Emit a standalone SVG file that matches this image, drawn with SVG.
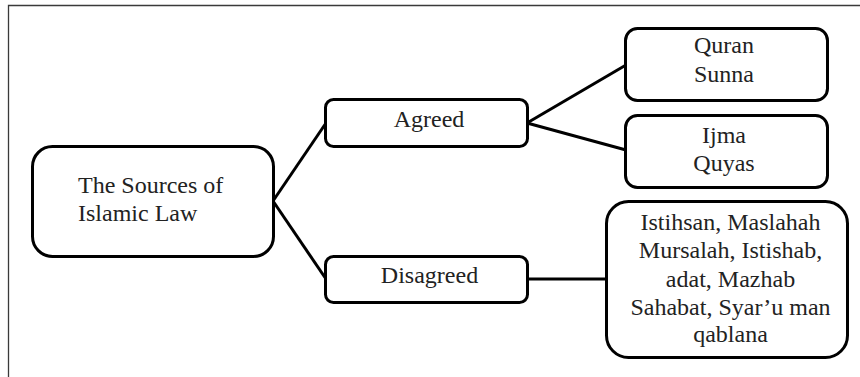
<svg xmlns="http://www.w3.org/2000/svg" width="860" height="377" viewBox="0 0 860 377">
<style>
.frame{fill:none;stroke:#3a3a3a;stroke-width:1.3}
.box{fill:#fff;stroke:#000;stroke-width:3}
.conn{fill:none;stroke:#000;stroke-width:3}
.t{font-family:'Liberation Serif',serif;font-size:24px;fill:#222}
.c{text-anchor:middle}
</style>
<rect width="860" height="377" fill="#fff"/>
<path class="frame" d="M8.5,377 V5.5 H860"/>
<g id="connectors">
<line class="conn" x1="273" y1="201" x2="326" y2="123"/>
<line class="conn" x1="273" y1="201" x2="326" y2="279"/>
<line class="conn" x1="527" y1="123" x2="626" y2="65"/>
<line class="conn" x1="527" y1="123" x2="626" y2="150"/>
<line class="conn" x1="527" y1="279" x2="607" y2="279"/>
</g>
<g id="root">
<rect class="box" x="32.5" y="146.5" width="241" height="110" rx="20"/>
<text class="t" x="78" y="193">The Sources of</text>
<text class="t" x="78" y="221">Islamic Law</text>
</g>
<g id="agreed">
<rect class="box" x="325.5" y="99.5" width="202" height="47" rx="8"/>
<text class="t c" x="429" y="127">Agreed</text>
</g>
<g id="disagreed">
<rect class="box" x="325.5" y="256.5" width="202" height="46" rx="8"/>
<text class="t c" x="429.5" y="283">Disagreed</text>
</g>
<g id="quran-sunna">
<rect class="box" x="625.5" y="28.5" width="202" height="72" rx="12"/>
<text class="t c" x="724" y="53">Quran</text>
<text class="t c" x="724" y="82">Sunna</text>
</g>
<g id="ijma-quyas">
<rect class="box" x="625.5" y="115.5" width="202" height="72" rx="12"/>
<text class="t c" x="724" y="143">Ijma</text>
<text class="t c" x="724" y="171">Quyas</text>
</g>
<g id="disagreed-sources">
<rect class="box" x="606.5" y="201.5" width="241" height="156" rx="22"/>
<text class="t c" x="730.5" y="230">Istihsan, Maslahah</text>
<text class="t c" x="730.5" y="258">Mursalah, Istishab,</text>
<text class="t c" x="730.5" y="287">adat, Mazhab</text>
<text class="t c" x="730.5" y="315">Sahabat, Syar’u man</text>
<text class="t c" x="730.5" y="342">qablana</text>
</g>
</svg>
